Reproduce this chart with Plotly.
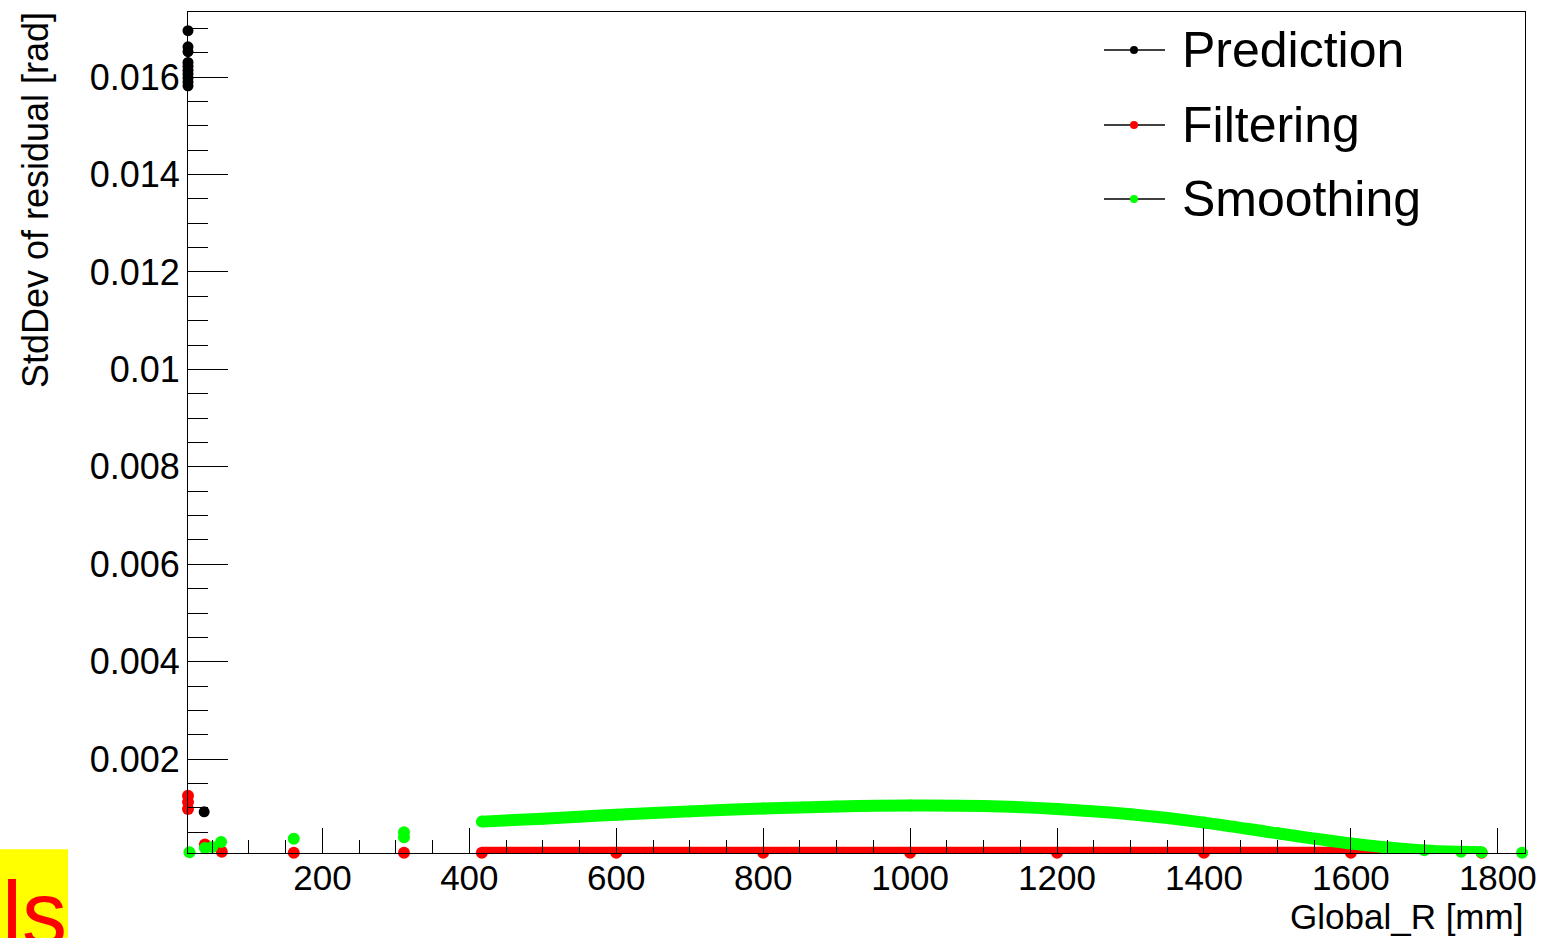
import plotly.graph_objects as go

# ---------------- data ----------------
pred_x = [17, 17, 17, 17, 17, 17, 17, 17, 17, 17, 39]
pred_y = [0.01695, 0.01662, 0.01652, 0.01630, 0.01622, 0.01614, 0.01606, 0.01598, 0.01590, 0.01582, 0.00092]

filt_x = [17, 17, 17, 40, 63, 161, 311]
filt_y = [0.00125, 0.00112, 0.00098, 0.00025, 0.00010, 0.00008, 0.00008]
filt_band_x = [417, 600, 800, 1000, 1200, 1400, 1600, 1778]
filt_band_y = [0.00008, 0.00008, 0.00008, 0.00008, 0.00008, 0.00008, 0.00008, 0.00008]

smooth_x = [19, 40, 50, 62, 161, 311, 311, 1833]
smooth_y = [0.00009, 0.00018, 0.00020, 0.00030, 0.00037, 0.00040, 0.00050, 0.00008]
smooth_band_x = [417, 500, 600, 700, 800, 900, 1000, 1100, 1200, 1300, 1400, 1500, 1600, 1650, 1700, 1750, 1778]
smooth_band_y = [0.00072, 0.00078, 0.00086, 0.00093, 0.00099, 0.00103, 0.00105, 0.00104, 0.00098,
                 0.00087, 0.00070, 0.00048, 0.00027, 0.00019, 0.00013, 0.00010, 0.00009]

y_tick_vals = [0.002, 0.004, 0.006, 0.008, 0.010, 0.012, 0.014, 0.016]
y_tick_text = ["0.002", "0.004", "0.006", "0.008", "0.01", "0.012", "0.014", "0.016"]
x_tick_vals = [200, 400, 600, 800, 1000, 1200, 1400, 1600, 1800]
x_tick_text = ["200", "400", "600", "800", "1000", "1200", "1400", "1600", "1800"]

legend_names = ["Prediction", "Filtering", "Smoothing"]
legend_colors = ["#000000", "#ff0000", "#00ff00"]

FONT = "Liberation Sans, Arial, Helvetica, sans-serif"
W, H = 1544, 938
L, R, T, B = 188, 1525, 12, 852.7
PW, PH = R - L, B - T


def px(xp):
    return (xp - L) / PW


def py(yp):
    return (B - yp) / PH


fig = go.Figure()
MS = 12
fig.add_trace(go.Scatter(x=pred_x, y=pred_y, mode="markers", cliponaxis=False, showlegend=False,
                         marker=dict(color="#000000", size=MS - 1)))
fig.add_trace(go.Scatter(x=filt_x, y=filt_y, mode="markers", cliponaxis=False, showlegend=False,
                         marker=dict(color="#ff0000", size=MS)))
fig.add_trace(go.Scatter(x=filt_band_x, y=filt_band_y, mode="lines+markers", cliponaxis=False, showlegend=False,
                         line=dict(color="#ff0000", width=MS), marker=dict(color="#ff0000", size=MS)))
fig.add_trace(go.Scatter(x=smooth_x, y=smooth_y, mode="markers", cliponaxis=False, showlegend=False,
                         marker=dict(color="#00ff00", size=MS)))
fig.add_trace(go.Scatter(x=smooth_band_x, y=smooth_band_y, mode="lines+markers", cliponaxis=False,
                         showlegend=False, line=dict(color="#00ff00", width=MS, shape="spline"),
                         marker=dict(color="#00ff00", size=MS)))

fig.update_xaxes(range=[17.0, 1837.0], showline=True, mirror=True, linecolor="#000000", linewidth=1,
                 showgrid=False, zeroline=False, ticks="inside", ticklen=25, tickcolor="#000000",
                 tickvals=x_tick_vals, ticktext=x_tick_text, ticklabelstandoff=-6, automargin=False,
                 tickfont=dict(family=FONT, size=35, color="#000000"),
                 minor=dict(dtick=50, tick0=0, ticks="inside", ticklen=13, tickcolor="#000000", showgrid=False))
fig.update_yaxes(range=[0.000076, 0.017334], showline=True, mirror=True, linecolor="#000000", linewidth=1,
                 showgrid=False, zeroline=False, ticks="inside", ticklen=40, tickcolor="#000000",
                 tickvals=y_tick_vals, ticktext=y_tick_text, automargin=False,
                 tickfont=dict(family=FONT, size=36, color="#000000"), ticklabelstandoff=0,
                 minor=dict(dtick=0.0005, tick0=0, ticks="inside", ticklen=20, tickcolor="#000000", showgrid=False))

shapes = []
annotations = []
# manual legend (ROOT style: black line, small coloured marker)
leg_rows = [50, 125, 199]
for name, col, yp in zip(legend_names, legend_colors, leg_rows):
    shapes.append(dict(type="line", xref="paper", yref="paper", x0=px(1104), x1=px(1165), y0=py(yp), y1=py(yp),
                       line=dict(color="#000000", width=1.5)))
    shapes.append(dict(type="circle", xref="paper", yref="paper", xsizemode="pixel", ysizemode="pixel",
                       xanchor=px(1134), yanchor=py(yp), x0=-4, x1=4, y0=-4, y1=4,
                       fillcolor=col, line=dict(color=col, width=0)))
    annotations.append(dict(text=name, xref="paper", yref="paper", x=px(1180), y=py(yp), xanchor="left",
                            yanchor="middle", showarrow=False, font=dict(family=FONT, size=50, color="#000000")))

# axis titles
annotations.append(dict(text="StdDev of residual [rad]", xref="paper", yref="paper", x=px(35), y=py(200),
                        xanchor="center", yanchor="middle", textangle=-90, showarrow=False,
                        font=dict(family=FONT, size=36, color="#000000")))
annotations.append(dict(text="Global_R [mm]", xref="paper", yref="paper", x=1.0, y=py(916),
                        xanchor="right", yanchor="middle", showarrow=False,
                        font=dict(family=FONT, size=35, color="#000000")))

# yellow corner box with red text fragment
shapes.append(dict(type="rect", xref="paper", yref="paper", x0=px(0), x1=px(68), y0=py(849), y1=py(960),
                   fillcolor="#ffff00", line=dict(width=0), layer="below"))
annotations.append(dict(text="ls", xref="paper", yref="paper", x=px(0), y=py(862), xanchor="left",
                        yanchor="top", showarrow=False, font=dict(family=FONT, size=90, color="#ff0000")))

fig.update_layout(width=W, height=H, margin=dict(l=L, r=W - R, t=T, b=H - B, pad=0, autoexpand=False),
                  plot_bgcolor="#ffffff", paper_bgcolor="#ffffff", showlegend=False,
                  shapes=shapes, annotations=annotations)

fig.write_html("out.html", config={"displayModeBar": False},
               post_script="document.body.style.margin='0';document.body.style.overflow='hidden';")
